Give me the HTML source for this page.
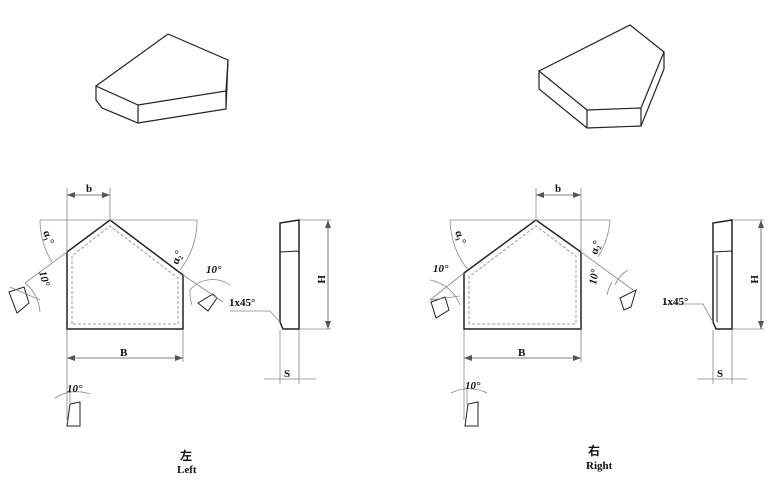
<!DOCTYPE html>
<html><head><meta charset="utf-8"><style>
html,body{margin:0;padding:0;background:#fff;}
svg{display:block}
text{font-family:"Liberation Serif","Noto Serif CJK SC",serif;font-weight:bold;fill:#111}
text.cjk{font-family:"Noto Sans CJK SC","WenQuanYi Zen Hei",sans-serif;font-weight:bold}
</style></head><body>
<svg width="776" height="499" viewBox="0 0 776 499" xmlns="http://www.w3.org/2000/svg">
<defs>
<marker id="a" markerWidth="8" markerHeight="6" refX="8" refY="3" orient="auto-start-reverse" markerUnits="userSpaceOnUse"><path d="M0,0 L8,3 L0,6 z" fill="#555"/></marker>
</defs>
<g fill="none" stroke="#222" stroke-width="1.2">
<path d="M96,86 L168,34 L228,60 L226,91 L138,105 L96,86 Z"/>
<path d="M96,86 L96,100 L102,108 L138,123 L226,109 L226,91 M138,105 L138,123 M228,60 L226,109"/>
<path d="M539,71 L630,25 L664,52 L641,108 L587,110 Z"/>
<path d="M539,71 L539,89 L587,128 L641,126 L664,69 L664,52 M587,110 L587,128 M641,108 L641,126"/>
</g>
<g fill="none" stroke="#222" stroke-width="1.5">
<path d="M67,329 L67,252 L110,220 L183,275 L183,329 Z"/>
<path d="M464,329 L464,273 L536,220 L581,252 L581,329 Z"/>
<path d="M280,223 L299,220 L299,329 L283,329 L280,322 Z"/>
<path d="M713,223 L732,220 L732,329 L716,329 L713,322 Z"/>
</g>
<g fill="none" stroke="#999" stroke-width="1" stroke-dasharray="3,2">
<path d="M72,324 L72,256 L110,226 L178,278 L178,324 Z"/>
<path d="M469,324 L469,277 L536,226 L576,256 L576,324 Z"/>
</g>
<g fill="none" stroke="#222" stroke-width="1">
<path d="M280,252 L299,251 M713,252 L732,251 M717,255 L717,322"/>
<path d="M9,292 L24,287 L29,303 L17,313 Z"/>
<path d="M198,303 L213,294 L217,298 L208,311 Z"/>
<path d="M67,426 L70,404 L80,402 L80,426 Z"/>
<path d="M431,302 L445,297 L449,310 L436,318 Z"/>
<path d="M620,298 L636,290 L631,307 L624,310 Z"/>
<path d="M465,426 L468,404 L478,402 L478,426 Z"/>
</g>
<g fill="none" stroke="#888" stroke-width="0.8">
<path d="M67,188 L67,252 M110,188 L110,220 M40,220 L197,220 M67,330 L67,420 M183,330 L183,362"/>
<path d="M67,252 L25,283 M183,275 L223,302"/>
<path d="M40,220 A80,80 0 0 0 52,262 M197,220 A80,80 0 0 1 180,270"/>
<path d="M25,283 A40,40 0 0 1 40,312 M10,287 L40,300"/>
<path d="M190,290 A30,30 0 0 1 230,285 M190,290 A40,40 0 0 0 192,305"/>
<path d="M55,398 A40,40 0 0 1 90,394 M70,390 L70,404"/>
<path d="M300,220 L331,220 M300,329 L331,329 M280,330 L280,384 M299,330 L299,384 M264,379 L316,379"/>
<path d="M230,311 L270,311 L280,322"/>
<path d="M536,188 L536,220 M581,188 L581,252 M450,220 L610,220 M464,330 L464,420 M581,330 L581,362"/>
<path d="M464,273 L430,300 M581,252 L633,290"/>
<path d="M450,220 A85,85 0 0 0 468,270 M610,220 A80,80 0 0 1 598,257"/>
<path d="M430,280 A40,40 0 0 1 460,305 M430,300 L460,296"/>
<path d="M615,285 A30,30 0 0 1 628,270 M612,282 A40,40 0 0 0 607,295"/>
<path d="M451,393 A40,40 0 0 1 487,393 M467,390 L467,404"/>
<path d="M733,220 L764,220 M733,329 L764,329 M713,330 L713,384 M732,330 L732,384 M697,379 L747,379"/>
<path d="M663,304 L703,304 L713,322"/>
</g>
<g stroke="#555" stroke-width="0.8" fill="none">
<line x1="67" y1="195" x2="110" y2="195" marker-start="url(#a)" marker-end="url(#a)"/>
<line x1="67" y1="358" x2="183" y2="358" marker-start="url(#a)" marker-end="url(#a)"/>
<line x1="328" y1="220" x2="328" y2="329" marker-start="url(#a)" marker-end="url(#a)"/>
<line x1="536" y1="195" x2="581" y2="195" marker-start="url(#a)" marker-end="url(#a)"/>
<line x1="464" y1="358" x2="581" y2="358" marker-start="url(#a)" marker-end="url(#a)"/>
<line x1="761" y1="220" x2="761" y2="329" marker-start="url(#a)" marker-end="url(#a)"/>
</g>
<g font-size="11">
<text x="86" y="192">b</text>
<text x="555" y="192">b</text>
<text x="120" y="356">B</text>
<text x="518" y="356">B</text>
<text x="284" y="377">S</text>
<text x="717" y="377">S</text>
<text x="229" y="306">1x45°</text>
<text x="662" y="305">1x45°</text>
<text x="0" y="0" transform="translate(318,275) rotate(90)">H</text>
<text x="0" y="0" transform="translate(751,275) rotate(90)">H</text>
<text x="0" y="0" transform="translate(43,232) rotate(70)">α₁°</text>
<text x="0" y="0" transform="translate(178,265) rotate(-70)">α₂°</text>
<text x="0" y="0" transform="translate(455,232) rotate(70)">α₁°</text>
<text x="0" y="0" transform="translate(597,255) rotate(-75)">α₂°</text>
<text x="0" y="0" font-style="italic" transform="translate(39,272) rotate(75)">10°</text>
<text x="206" y="273" font-style="italic">10°</text>
<text x="67" y="392" font-style="italic">10°</text>
<text x="433" y="272" font-style="italic">10°</text>
<text x="0" y="0" font-style="italic" transform="translate(596,285) rotate(-80)">10°</text>
<text x="465" y="389" font-style="italic">10°</text>
<text class="cjk" x="180" y="460" font-size="12">左</text>
<text x="177" y="473" font-size="11">Left</text>
<text class="cjk" x="588" y="455" font-size="12">右</text>
<text x="586" y="469" font-size="11">Right</text>
</g>
</svg>
</body></html>
